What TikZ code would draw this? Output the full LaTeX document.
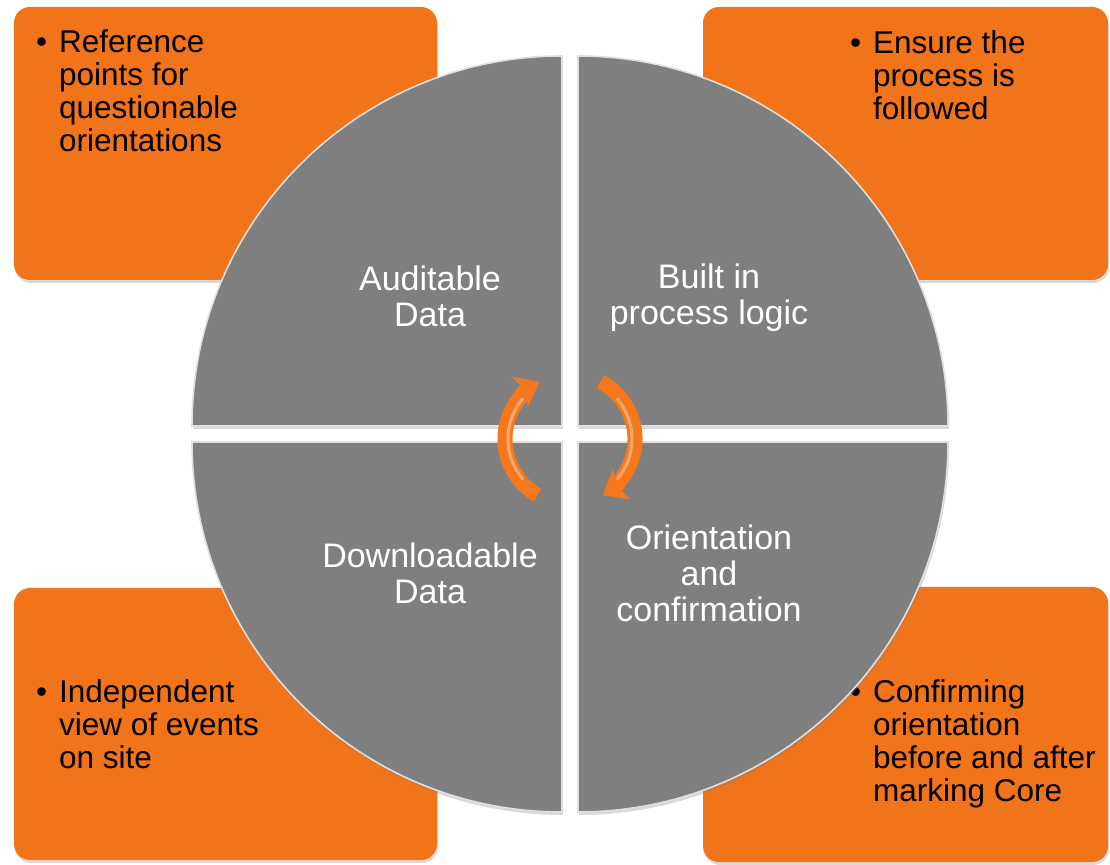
\documentclass[tikz,border=0pt]{standalone}
\usepackage{fontspec}
\setmainfont{Liberation Sans}
\usetikzlibrary{arrows.meta,shadows}
\definecolor{boxorange}{RGB}{241,115,26}
\definecolor{quadgray}{RGB}{127,127,127}
\definecolor{arroworange}{RGB}{245,120,30}
\tikzset{
  orangebox/.style={fill=boxorange, rounded corners=16pt,
    drop shadow={opacity=0.3,shadow xshift=1pt,shadow yshift=-3pt}},
  quadrant/.style={fill=quadgray, draw=white!75!gray, line width=1.6pt,
    drop shadow={opacity=0.3,shadow xshift=1pt,shadow yshift=-3pt}},
  boxtext/.style={anchor=north west, align=left, inner sep=0pt,
    font=\fontsize{31.5}{33}\selectfont},
  quadtext/.style={align=center, text=white, inner sep=0pt,
    font=\fontsize{34}{36}\selectfont},
  turnarrow/.style={draw=arroworange, line width=15pt,
    -{Stealth[length=22pt,width=34pt,inset=5pt]}},
  gloss/.style={draw=white, opacity=0.35, line width=3pt, line cap=round}
}
\begin{document}
\begin{tikzpicture}[x=1pt,y=1pt]
\useasboundingbox (0,0) rectangle (1110,864);
% orange boxes
\fill[orangebox] (14,584) rectangle (437,857);
\fill[orangebox] (703,584) rectangle (1108,857);
\fill[orangebox] (14,4) rectangle (437,276);
\fill[orangebox] (703,2) rectangle (1108,277);
\node[boxtext] (refpts) at (59,834) {\llap{•\hspace{12pt}}Reference\\points for\\questionable\\orientations};
\node[boxtext] (ensure) at (873,834) {\llap{•\hspace{12pt}}Ensure the\\process is\\followed};
\node[boxtext] (indep) at (59,185) {\llap{•\hspace{12pt}}Independent\\view of events\\on site};
\node[boxtext] (confirm) at (873,185) {\llap{•\hspace{12pt}}Confirming\\orientation\\before and after\\marking Core};
% quarters of the circle
\foreach \cx/\cy/\a in {562/438/90, 578/438/0, 562/422/180, 578/422/270}
\draw[quadrant] (\cx,\cy) -- ++(\a:370) arc[start angle=\a, delta angle=90, radius=370] -- cycle;
\node[quadtext] (audit) at (430,568) {Auditable\\Data};
\node[quadtext] (logic) at (709,566) {Built in\\process logic};
\node[quadtext] (download) at (430,291) {Downloadable\\Data};
\node[quadtext] (orient) at (709,291) {Orientation\\and\\confirmation};
% turning arrows
\draw[turnarrow] (570,425) ++(240:65) arc[start angle=240, end angle=118, radius=65];
\draw[turnarrow] (570,425) ++(62:65) arc[start angle=62, end angle=-60, radius=65];
\draw[gloss] (570,425) ++(220:62) arc[start angle=220, end angle=140, radius=62];
\draw[gloss] (570,425) ++(40:62) arc[start angle=40, end angle=-40, radius=62];
\end{tikzpicture}
\end{document}
